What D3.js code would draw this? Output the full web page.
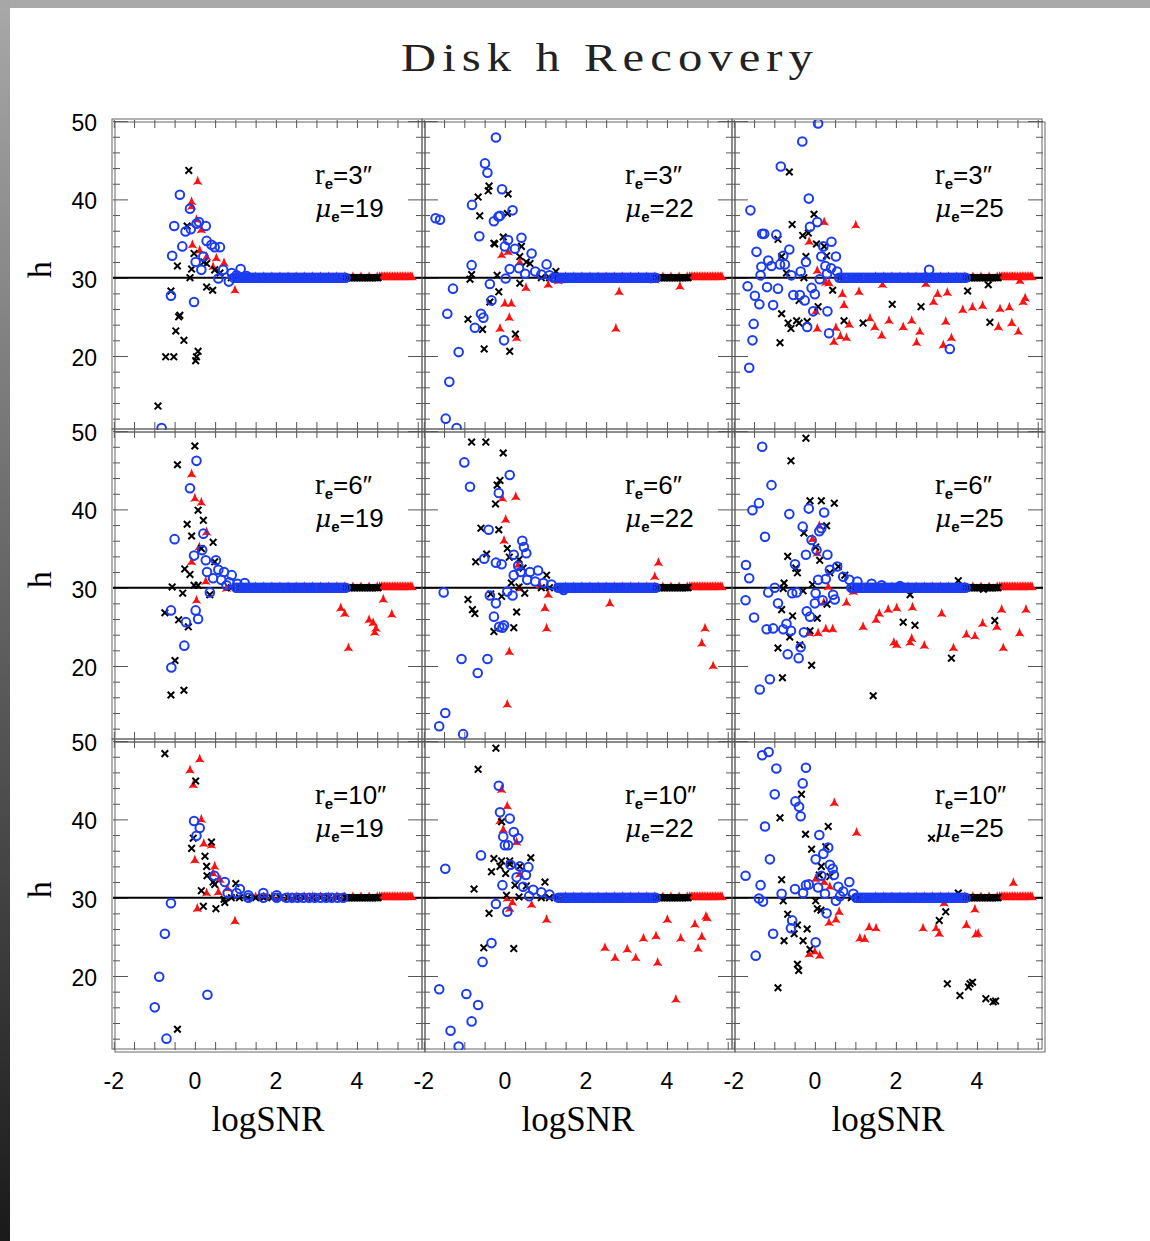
<!DOCTYPE html>
<html><head><meta charset="utf-8">
<script src="https://cdn.jsdelivr.net/npm/d3@7"></script>
<style>html,body{margin:0;padding:0;background:#fff;}svg{display:block;}</style>
</head><body>
<script>
// ---------- DATA ----------
const title = "Disk h Recovery";
const xLabel = "logSNR";
const yLabel = "h";
const xTickLabels = [-2, 0, 2, 4];
const yTickLabels = [20, 30, 40, 50];
const rowRe = ["3", "6", "10"];
const colMu = ["19", "22", "25"];
const trueH = 30;

// shared converged band (h = 30) x positions
const bandBlueX = [0.60,0.66,0.72,0.78,0.84,0.90,0.96,1.02,1.08,1.14,1.20,1.26,1.32,1.38,1.44,1.50,1.56,1.62,1.68,1.74,1.80,1.86,1.92,1.98,2.04,2.10,2.16,2.22,2.28,2.34,2.40,2.46,2.52,2.58,2.64,2.70,2.76,2.82,2.88,2.94,3.00,3.06,3.12,3.18,3.24,3.30,3.36,3.42,3.48,3.54,3.60,3.66,3.72];
const bandBlueSparseX = [1.32,1.69,2.02,2.26,2.40,2.54,2.68,2.82,2.96,3.10,3.24,3.38,3.52,3.66];
const bandBlackX = [0.9,1.1,1.3,1.5,1.7,1.9,2.1,2.3,2.5,2.7,2.9,3.1,3.3,3.5,3.72,3.76,3.80,3.84,3.88,3.92,3.96,4.00,4.04,4.08,4.12,4.16,4.20,4.24,4.28,4.32,4.36,4.40,4.44,4.48,4.52];
const bandRedX = [1.5,1.7,1.9,2.1,2.3,2.5,2.7,2.9,3.1,3.3,3.5,3.7,3.9,4.1,4.3,4.5,4.56,4.60,4.64,4.68,4.72,4.76,4.80,4.84,4.88,4.92,4.96,5.00,5.04,5.08,5.12,5.16,5.20,5.24,5.28,5.32,5.36];
const bandStart = [0.95, 1.2, 0.6, 1.0, 1.3, 0.9, null, 1.3, 1.0];

// ---- panel re=3, mu=19
const r3m19Cross = [[-0.15,43.7],[-0.19,36.6],[-0.02,33.1],[-0.43,31.5],[-0.08,31.1],[-0.12,30.0],[0.29,28.8],[0.44,28.4],[-0.59,28.3],[-0.37,25.2],[-0.40,25.0],[-0.47,23.2],[-0.27,22.0],[-0.72,19.9],[-0.52,19.9],[0.08,20.6],[0.04,19.9],[0.02,19.4],[-0.91,13.6],[0.22,32.0],[0.29,31.8],[0.49,31.0],[0.62,30.6]];
const r3m19Tri = [[0.07,42.3],[-0.08,39.7],[-0.08,39.1],[0.04,37.4],[0.16,36.1],[-0.06,34.2],[0.12,33.5],[0.29,32.7],[0.53,32.5],[0.72,31.9],[0.99,28.4],[0.45,31.4]];
const r3m19Circ = [[-0.37,40.6],[-0.51,36.6],[-0.12,38.8],[-0.23,35.9],[-0.10,36.2],[0.04,36.9],[0.10,37.1],[0.27,36.6],[-0.31,34.0],[-0.56,32.8],[0.29,34.7],[0.41,34.2],[0.49,33.9],[0.62,33.9],[0.02,32.0],[0.21,32.7],[0.16,31.0],[0.58,29.9],[0.84,29.5],[1.13,31.1],[-0.59,27.7],[-0.02,26.9],[-0.82,10.8],[0.70,31.0],[0.91,30.6],[1.03,30.3],[1.28,30.2]];

// ---- panel re=3, mu=22
const r3m22Cross = [[-0.39,41.7],[-0.41,41.1],[-0.66,40.3],[0.08,40.7],[-0.62,37.9],[0.06,38.2],[-0.04,35.2],[-0.27,34.4],[-0.25,34.3],[0.41,34.0],[0.37,32.7],[0.53,32.0],[-0.82,30.4],[-0.86,29.8],[-0.19,30.3],[0.37,29.3],[-0.15,28.2],[-0.37,26.9],[-0.91,24.7],[-0.55,23.4],[0.26,22.8],[-0.51,20.9],[0.12,20.6],[1.26,30.8],[0.62,31.8]];
const r3m22Tri = [[-0.08,32.9],[0.08,33.3],[0.52,28.7],[1.07,29.1],[1.32,29.6],[0.00,26.7],[0.16,26.7],[0.11,24.9],[-0.12,23.5],[0.29,22.3],[2.82,28.2],[2.74,23.5],[3.70,29.7],[4.32,28.9],[0.37,32.0]];
const r3m22Circ = [[-0.22,47.9],[-0.49,44.6],[-0.43,43.4],[-0.07,41.3],[-0.81,39.3],[0.19,38.6],[-0.12,37.9],[-0.16,37.8],[-0.27,37.2],[-1.71,37.6],[-1.60,37.4],[-0.63,35.3],[0.41,35.1],[0.00,34.0],[0.08,34.8],[0.25,33.7],[0.66,33.1],[-0.82,31.6],[0.12,31.1],[1.03,31.7],[-1.28,28.6],[-0.37,29.2],[0.02,29.9],[-1.42,25.4],[-0.59,25.4],[-0.53,24.9],[-0.33,27.1],[-0.74,23.6],[-0.02,22.0],[-1.14,20.5],[-1.37,16.7],[-1.46,12.0],[-1.19,10.8],[0.35,31.2],[0.50,30.5],[0.75,30.8],[0.90,30.4],[1.10,30.3]];

// ---- panel re=3, mu=25
const r3m25Cross = [[-0.63,43.5],[-0.56,36.8],[-0.02,38.1],[-0.30,35.4],[-0.16,35.7],[-0.91,34.9],[-0.82,32.7],[0.04,34.3],[0.23,34.0],[-0.22,32.7],[0.29,32.8],[-0.70,30.6],[-0.27,30.0],[0.44,28.4],[0.62,30.0],[-0.39,27.1],[0.08,26.3],[-0.82,25.4],[-0.66,24.2],[-0.59,23.5],[-0.45,24.5],[-0.39,24.2],[-0.19,24.4],[-0.86,21.7],[0.72,24.5],[1.19,24.2],[1.91,26.6],[2.62,26.3],[3.77,28.3],[4.28,29.1],[4.32,24.3]];
const r3m25Tri = [[0.23,37.1],[1.01,36.7],[-0.14,34.6],[0.06,30.9],[0.27,29.4],[0.35,29.3],[0.68,27.9],[1.09,28.2],[0.72,26.5],[1.67,29.1],[2.74,29.2],[3.03,27.9],[3.27,28.1],[2.93,26.9],[0.02,25.7],[0.06,23.5],[0.52,23.6],[0.85,24.0],[0.63,22.5],[0.47,21.8],[0.78,22.3],[1.36,24.8],[1.48,23.7],[1.83,24.5],[1.65,22.6],[2.18,23.7],[2.39,24.5],[2.59,23.1],[2.51,21.7],[3.23,24.4],[3.37,22.3],[3.17,21.4],[3.65,25.9],[3.89,26.2],[4.14,26.4],[4.57,26.0],[4.80,26.2],[4.53,23.7],[4.86,24.2],[5.02,23.1],[5.14,26.9],[5.19,27.4],[5.06,29.6]];
const r3m25Circ = [[0.08,49.7],[-0.31,47.4],[-0.84,44.2],[-0.15,40.1],[-1.59,38.6],[-0.12,36.5],[0.06,37.1],[-1.30,35.6],[-1.25,35.6],[-0.95,35.5],[-1.44,33.3],[-0.63,33.6],[0.41,34.6],[-0.78,32.8],[-1.15,32.2],[-1.32,31.4],[-1.07,31.5],[-0.86,31.7],[-0.74,31.7],[-1.34,30.3],[-0.58,30.3],[-0.35,30.8],[-0.22,32.0],[0.21,34.0],[0.16,32.7],[0.52,32.7],[0.26,31.5],[0.12,29.8],[-1.66,28.9],[-1.18,28.8],[-0.91,28.6],[-1.48,27.7],[-1.37,26.6],[-1.03,26.5],[-0.53,27.8],[-0.37,27.8],[-0.25,27.1],[-0.08,28.7],[0.00,27.9],[-0.04,25.7],[0.31,25.7],[-1.51,24.1],[-0.19,23.7],[0.35,22.9],[-1.54,22.0],[-1.62,18.5],[3.33,20.9],[2.82,31.0],[0.40,31.2],[0.55,30.8],[0.30,30.5]];

// ---- panel re=6, mu=19
const r6m19Cross = [[0.00,48.1],[-0.43,45.7],[0.08,39.9],[0.21,38.6],[-0.19,38.1],[-0.08,36.6],[0.45,35.8],[0.16,35.0],[-0.25,32.4],[-0.12,31.7],[-0.56,30.1],[-0.30,29.3],[-0.02,30.3],[0.08,30.3],[0.49,33.3],[-0.74,26.8],[-0.40,25.9],[-0.16,25.0],[-0.49,20.7],[-0.59,16.3],[-0.27,16.9],[0.37,29.1],[1.15,29.9]];
const r6m19Tri = [[-0.08,44.5],[0.00,41.4],[0.16,40.9],[0.29,37.1],[0.11,35.2],[-0.08,33.3],[0.27,30.8],[0.04,28.4],[0.78,29.9],[3.60,27.4],[3.70,26.7],[3.79,22.3],[4.30,25.9],[4.40,25.5],[4.47,24.8],[4.44,24.3],[4.65,28.5],[4.86,26.6]];
const r6m19Circ = [[0.04,46.2],[-0.12,42.7],[-0.50,36.2],[0.21,36.9],[0.18,34.8],[-0.02,34.1],[0.27,33.5],[0.52,33.5],[0.30,32.0],[0.58,32.3],[0.72,32.0],[0.91,31.6],[0.37,29.4],[0.78,30.3],[-0.59,27.1],[0.02,27.1],[0.08,26.0],[-0.22,25.6],[-0.26,22.6],[-0.58,19.8],[1.23,30.6],[0.45,31.2],[0.65,31.0],[0.85,30.7],[1.05,30.5]];

// ---- panel re=6, mu=22
const r6m22Cross = [[-0.82,48.6],[-0.47,48.6],[-0.04,47.2],[-0.12,43.7],[-0.19,43.1],[-0.23,40.7],[-0.59,37.6],[-0.15,37.4],[0.06,35.0],[0.11,33.9],[-0.45,34.3],[-0.72,33.3],[0.35,33.6],[0.45,32.5],[1.03,31.6],[0.16,30.6],[0.35,30.1],[-0.35,29.2],[0.49,29.3],[-0.08,28.9],[-0.91,28.5],[-0.80,27.2],[-0.74,26.7],[0.29,26.9],[0.22,24.9],[-0.27,24.4]];
const r6m22Tri = [[-0.06,41.4],[0.27,41.6],[0.02,38.7],[-0.02,36.0],[0.33,32.9],[0.37,29.9],[1.07,29.1],[0.99,27.4],[1.03,24.8],[0.11,21.8],[0.06,15.1],[2.59,28.0],[3.79,33.2],[3.70,31.4],[4.94,24.8],[4.86,22.9],[5.14,20.0],[0.86,30.3]];
const r6m22Circ = [[-1.00,46.0],[0.12,44.4],[-0.86,42.9],[-0.15,42.1],[-0.40,37.4],[0.43,36.0],[0.47,35.2],[0.53,34.4],[0.22,34.2],[-0.51,33.7],[-0.22,33.2],[-0.08,33.0],[0.33,32.8],[0.39,32.0],[0.62,32.0],[0.82,32.2],[0.22,31.6],[-1.51,29.4],[-0.37,29.0],[0.06,29.5],[0.19,29.0],[-0.22,28.0],[-0.27,26.3],[-0.14,25.0],[-0.02,25.2],[-0.06,24.9],[-1.07,20.9],[-0.43,20.9],[-0.67,19.1],[-1.47,14.0],[-1.62,12.3],[-1.03,11.3],[0.55,31.0],[0.75,30.8],[0.95,30.6],[1.15,30.4],[1.45,29.7]];

// ---- panel re=6, mu=25
const r6m25Cross = [[-0.22,49.1],[-0.59,46.2],[-0.12,41.1],[0.16,41.1],[0.48,40.8],[0.29,37.9],[-0.27,37.0],[0.02,35.2],[-0.67,34.0],[0.12,33.5],[-0.47,32.5],[-0.43,31.9],[0.37,31.9],[0.58,32.7],[0.74,31.6],[-0.76,30.6],[-0.78,29.9],[-0.06,30.4],[-0.29,29.6],[0.30,27.9],[-0.82,27.2],[-0.55,26.4],[0.06,26.1],[-0.12,24.5],[-0.62,23.7],[-0.37,22.7],[-0.91,22.3],[-0.08,20.1],[-0.80,18.5],[1.44,16.2],[2.35,29.1],[2.18,25.6],[2.47,25.2],[3.54,30.9],[3.37,21.0],[4.16,29.8],[4.44,25.8]];
const r6m25Tri = [[0.11,37.9],[-0.06,36.2],[0.06,34.4],[0.22,28.1],[0.33,30.1],[0.78,28.1],[0.95,29.5],[-0.14,24.2],[0.08,24.2],[0.27,24.7],[0.44,24.7],[1.19,25.0],[1.51,25.9],[1.59,26.7],[1.81,27.2],[2.02,27.4],[2.41,27.5],[3.13,26.7],[1.95,23.0],[2.02,22.7],[2.35,23.0],[2.39,23.5],[2.70,22.6],[3.42,22.3],[3.74,24.0],[3.95,23.8],[4.14,25.4],[4.49,25.0],[4.61,27.2],[4.65,22.3],[5.05,24.2],[5.21,27.2]];
const r6m25Circ = [[-1.30,48.0],[-1.07,43.1],[-1.38,40.8],[-1.54,39.9],[-0.63,39.4],[-0.15,40.1],[0.23,39.6],[0.16,37.6],[0.11,37.2],[-0.30,37.8],[-1.23,36.5],[-0.08,36.1],[0.04,34.8],[-0.22,34.2],[0.31,34.2],[-1.70,32.9],[-1.62,31.2],[-0.49,33.0],[0.37,32.3],[0.55,32.7],[0.08,31.0],[0.27,31.1],[-0.99,30.0],[-1.15,29.4],[-0.56,29.3],[-0.45,29.4],[0.02,29.3],[0.45,29.1],[0.49,28.5],[-1.71,28.4],[-0.91,28.0],[0.19,28.4],[0.00,28.0],[-0.20,27.0],[-0.12,26.3],[-1.50,26.2],[-0.70,25.4],[-1.03,24.8],[-1.19,24.7],[-0.78,24.7],[-0.59,24.5],[-0.27,24.3],[-0.35,22.4],[-0.67,21.5],[-0.40,21.0],[-1.11,18.3],[-1.36,17.0],[0.70,31.4],[0.85,31.0],[1.05,30.8],[1.40,30.5],[1.65,30.3],[2.10,30.2]];

// ---- panel re=10, mu=19
const r10m19Cross = [[-0.74,48.4],[0.02,44.9],[-0.04,37.6],[-0.08,36.3],[0.41,37.1],[0.25,35.3],[0.29,34.0],[0.30,32.8],[0.45,32.0],[0.49,31.7],[1.01,31.8],[0.16,30.9],[0.21,28.9],[0.52,28.6],[0.72,29.8],[0.74,29.4],[-0.43,13.2]];
const r10m19Tri = [[0.12,47.7],[-0.12,46.3],[-0.04,44.4],[0.16,40.0],[0.22,36.9],[0.41,36.7],[0.00,34.8],[0.49,34.0],[0.45,33.1],[0.29,30.6],[0.06,28.6],[0.58,30.7],[0.99,27.0],[0.62,32.3],[0.80,31.2]];
const r10m19Circ = [[-0.02,39.8],[0.12,38.9],[0.04,37.9],[0.48,32.8],[0.74,32.0],[0.81,30.6],[1.11,31.1],[1.03,30.6],[1.32,30.3],[1.69,30.6],[2.02,30.3],[-0.59,29.3],[-0.74,25.4],[-0.88,19.9],[0.31,17.6],[-0.99,16.0],[-0.70,12.0]];

// ---- panel re=10, mu=22
const r10m22Cross = [[-0.22,49.1],[-0.66,46.4],[-0.08,39.7],[-0.27,35.0],[-0.08,34.7],[0.12,34.7],[0.64,35.1],[-0.33,33.3],[-0.12,34.0],[0.02,33.1],[0.12,34.3],[0.37,34.0],[-0.76,31.1],[0.25,31.6],[0.53,31.5],[0.99,32.0],[0.04,30.3],[0.35,30.1],[-0.39,28.0],[-0.52,23.6],[0.22,23.5]];
const r10m22Tri = [[-0.08,43.8],[0.06,41.7],[-0.12,39.8],[-0.04,38.7],[0.29,37.1],[0.37,33.0],[0.06,29.9],[0.19,29.4],[0.66,29.1],[0.12,28.6],[1.03,27.2],[2.47,23.6],[2.72,22.3],[3.02,23.4],[3.23,22.3],[3.42,24.8],[3.73,25.1],[4.01,27.2],[3.77,21.7],[4.34,24.8],[4.69,26.6],[4.86,25.0],[4.77,23.5],[4.96,27.6],[4.99,27.4],[4.22,17.0]];
const r10m22Circ = [[-0.15,44.3],[-0.12,40.9],[0.12,40.1],[0.22,38.4],[-0.04,37.8],[0.33,37.6],[0.00,36.7],[0.08,36.7],[-0.59,35.4],[-1.47,33.7],[0.14,34.2],[0.37,34.0],[0.58,33.9],[0.52,32.9],[0.29,32.6],[-0.06,31.6],[-0.22,29.2],[0.06,28.2],[-0.33,24.2],[-0.55,21.8],[-1.62,18.3],[-0.95,17.7],[-0.66,16.3],[-0.82,14.2],[-1.34,13.0],[-1.14,11.0],[0.45,31.4],[0.70,31.0],[0.90,30.7],[1.10,30.4],[0.60,30.2]];

// ---- panel re=10, mu=25
const r10m25Cross = [[-0.33,43.2],[-0.86,40.2],[0.33,39.1],[-0.23,38.1],[0.27,36.5],[-0.08,36.2],[0.16,34.0],[0.11,32.9],[0.37,32.7],[-0.82,32.3],[-0.78,29.6],[0.02,29.6],[0.06,28.6],[0.15,28.4],[-0.67,27.9],[-0.43,26.5],[-0.19,26.0],[-0.51,25.4],[-0.76,24.5],[-0.29,24.5],[-0.12,23.4],[-0.43,21.5],[-0.40,20.7],[-0.91,18.5],[2.88,37.6],[3.54,30.6],[3.23,28.2],[3.07,27.1],[3.27,19.0],[3.58,17.5],[3.79,18.6],[3.83,19.0],[3.89,19.2],[4.22,17.1],[4.40,16.7],[4.46,16.8]];
const r10m25Tri = [[0.48,42.1],[1.03,38.3],[0.02,32.4],[0.23,32.0],[0.37,31.4],[0.60,28.2],[0.52,27.2],[0.35,26.8],[1.34,26.2],[1.51,26.1],[1.11,24.8],[1.23,24.7],[-0.14,22.8],[0.00,23.1],[0.12,22.6],[2.67,26.1],[2.99,26.1],[3.07,25.4],[3.19,29.3],[3.74,26.5],[3.95,28.5],[3.97,25.3],[4.03,25.4],[4.90,31.9]];
const r10m25Circ = [[-1.30,48.2],[-1.14,48.6],[-0.95,46.5],[-0.22,46.6],[-0.30,44.6],[-0.99,43.2],[-0.48,42.3],[-0.39,41.6],[-0.35,40.4],[-1.23,39.1],[0.11,38.0],[0.33,36.4],[0.21,35.6],[-1.11,34.9],[0.02,34.9],[0.37,34.2],[0.44,33.7],[0.47,32.9],[0.16,32.8],[-1.71,32.8],[-1.34,31.6],[-0.15,31.7],[-0.22,31.6],[0.08,31.3],[-0.49,31.1],[-0.29,30.6],[-0.82,30.5],[0.25,30.5],[0.58,31.4],[0.85,32.0],[-1.38,29.9],[-1.28,29.5],[0.52,29.6],[-0.56,27.1],[-0.59,26.1],[-1.03,25.4],[0.29,28.0],[0.02,24.3],[-1.46,22.6],[0.70,30.8],[0.95,30.5],[0.62,30.2]];

const crossSets = [r3m19Cross, r3m22Cross, r3m25Cross, r6m19Cross, r6m22Cross, r6m25Cross, r10m19Cross, r10m22Cross, r10m25Cross];
const triSets = [r3m19Tri, r3m22Tri, r3m25Tri, r6m19Tri, r6m22Tri, r6m25Tri, r10m19Tri, r10m22Tri, r10m25Tri];
const circSets = [r3m19Circ, r3m22Circ, r3m25Circ, r6m19Circ, r6m22Circ, r6m25Circ, r10m19Circ, r10m22Circ, r10m25Circ];

// ---------- LAYOUT ----------
const W = 1150, H = 1241;
const panelW = 310, panelH = 310, left0 = 113, top0 = 120;
const xDomain = [-2.02, 5.63], yDomain = [10.55, 50.14];
const RED = "#ff1010", BLUE = "#1b3cf2", BLACK = "#000";

const svg = d3.select("body").append("svg").attr("width", W).attr("height", H);
const defs = svg.append("defs");
const grad = defs.append("linearGradient").attr("id","lg").attr("x1",0).attr("y1",0).attr("x2",0).attr("y2",1);
grad.append("stop").attr("offset","0%").attr("stop-color","#a8a8a8");
grad.append("stop").attr("offset","100%").attr("stop-color","#1a1a1a");
svg.append("rect").attr("x",0).attr("y",0).attr("width",W).attr("height",H).attr("fill","#fff");
svg.append("rect").attr("x",0).attr("y",0).attr("width",W).attr("height",8).attr("fill","#a9a9a9");
svg.append("rect").attr("x",0).attr("y",0).attr("width",10).attr("height",H).attr("fill","url(#lg)");

// title (wide glyphs, moderate spacing)
svg.append("text").attr("x",610).attr("y",71).attr("text-anchor","middle")
  .attr("font-family","'Liberation Serif','DejaVu Serif',serif").attr("font-size",40)
  .attr("letter-spacing",5)
  .attr("textLength",418).attr("lengthAdjust","spacingAndGlyphs").attr("fill","#222")
  .text(title);

const triPath = "M0,-5.6 Q1.2,-0.5 4.9,3.6 Q0,1.6 -4.9,3.6 Q-1.2,-0.5 0,-5.6 Z";

for (let r = 0; r < 3; r++) {
  for (let c = 0; c < 3; c++) {
    const idx = r*3 + c;
    const L = left0 + c*panelW, T = top0 + r*panelH;
    const x = d3.scaleLinear().domain(xDomain).range([0, panelW]);
    const y = d3.scaleLinear().domain(yDomain).range([panelH, 0]);
    const g = svg.append("g").attr("transform", `translate(${L},${T})`);
    const cid = "clip" + idx;
    defs.append("clipPath").attr("id", cid).append("rect").attr("x",0).attr("y",0).attr("width",panelW).attr("height",panelH);

    // frames (doubled)
    g.append("rect").attr("x",-1).attr("y",-1).attr("width",panelW).attr("height",panelH)
      .attr("fill","none").attr("stroke","#666").attr("stroke-width",1);
    g.append("rect").attr("x",2).attr("y",2).attr("width",panelW).attr("height",panelH)
      .attr("fill","none").attr("stroke","#666").attr("stroke-width",1);

    // ticks via d3 axes, drawn inward on all four sides
    const xt = d3.range(-2, 5.51, 0.5);
    const yt = d3.range(12, 50.1, 2);
    const styleAxis = sel => { sel.select(".domain").remove(); sel.selectAll("text").remove(); sel.selectAll("line").attr("stroke","#555").attr("stroke-width",1); };
    g.append("g").attr("transform",`translate(0,${panelH})`).call(d3.axisTop(x).tickValues(xt).tickSize(8)).call(styleAxis);
    g.append("g").call(d3.axisBottom(x).tickValues(xt).tickSize(8)).call(styleAxis);
    g.append("g").call(d3.axisRight(y).tickValues(yt).tickSize(7)).call(styleAxis)
      .selectAll(".tick line").attr("x2", d => d % 10 === 0 ? 15 : 7);
    g.append("g").attr("transform",`translate(${panelW},0)`).call(d3.axisLeft(y).tickValues(yt).tickSize(7)).call(styleAxis)
      .selectAll(".tick line").attr("x2", d => d % 10 === 0 ? -15 : -7);

    // true value line
    g.append("line").attr("x1",0).attr("x2",panelW).attr("y1",y(trueH)).attr("y2",y(trueH))
      .attr("stroke","#000").attr("stroke-width",2);

    const pg = g.append("g").attr("clip-path", `url(#${cid})`);

    // bands
    const bs = bandStart[idx];
    const blueBand = bs === null ? bandBlueSparseX : bandBlueX.filter(v => v >= bs);
    const redPts = bandRedX.map(v => [v, 30.1]).concat(triSets[idx]);
    const blackPts = bandBlackX.map(v => [v, 30.0]).concat(crossSets[idx]);
    const bluePts = blueBand.map(v => [v, 30.0]).concat(circSets[idx]);

    pg.selectAll("path.tri").data(redPts).join("path").attr("class","tri")
      .attr("d", triPath).attr("fill", RED)
      .attr("transform", d => `translate(${x(d[0])},${y(d[1])})`);
    const cr = pg.selectAll("g.cross").data(blackPts).join("g").attr("class","cross")
      .attr("transform", d => `translate(${x(d[0])},${y(d[1])})`);
    cr.append("path").attr("d","M-3.3,-3.3L3.3,3.3M-3.3,3.3L3.3,-3.3")
      .attr("stroke", BLACK).attr("stroke-width", 2).attr("fill","none");
    pg.selectAll("circle.c").data(bluePts).join("circle").attr("class","c")
      .attr("cx", d => x(d[0])).attr("cy", d => y(d[1])).attr("r", 4.3)
      .attr("fill","none").attr("stroke", BLUE).attr("stroke-width", 2);

    // annotation
    const ann = g.append("g").attr("transform", `translate(202,0)`);
    const t1 = ann.append("text").attr("x",0).attr("y",64).attr("fill","#000");
    t1.append("tspan").attr("font-family","'Liberation Serif','DejaVu Serif',serif").attr("font-size",29).text("r");
    t1.append("tspan").attr("font-family","'Liberation Sans',Arial,sans-serif").attr("font-weight","bold").attr("font-size",15).attr("dy",5).text("e");
    t1.append("tspan").attr("font-family","'Liberation Sans',Arial,sans-serif").attr("font-size",26).attr("dy",-5).text("=" + rowRe[r] + "\u2033");
    const t2 = ann.append("text").attr("x",0).attr("y",97).attr("fill","#000");
    t2.append("tspan").attr("font-family","'DejaVu Serif',serif").attr("font-style","italic").attr("font-size",25).text("\u03bc");
    t2.append("tspan").attr("font-family","'Liberation Sans',Arial,sans-serif").attr("font-weight","bold").attr("font-size",15).attr("dy",5).text("e");
    t2.append("tspan").attr("font-family","'Liberation Sans',Arial,sans-serif").attr("font-size",26).attr("dy",-5).text("=" + colMu[c]);

    // y tick labels and y label on left column
    if (c === 0) {
      svg.selectAll(null).data(yTickLabels).join("text")
        .attr("x", 97).attr("y", d => T + y(d) + 4)
        .attr("text-anchor","end").attr("dominant-baseline","middle")
        .attr("font-family","'Liberation Sans',Arial,sans-serif").attr("font-size",23)
        .text(d => d);
      svg.append("text").attr("transform", `translate(51,${T + y(30) - 8}) rotate(-90)`)
        .attr("text-anchor","middle")
        .attr("font-family","'Liberation Serif','DejaVu Serif',serif").attr("font-size",34)
        .text(yLabel);
    }
    // x tick labels and x label on bottom row
    if (r === 2) {
      svg.selectAll(null).data(xTickLabels).join("text")
        .attr("x", d => L + x(d)).attr("y", T + panelH + 33)
        .attr("text-anchor","middle").attr("dominant-baseline","middle")
        .attr("font-family","'Liberation Sans',Arial,sans-serif").attr("font-size",23)
        .text(d => d);
      svg.append("text").attr("x", L + 155).attr("y", T + panelH + 81)
        .attr("text-anchor","middle")
        .attr("font-family","'Liberation Serif','DejaVu Serif',serif").attr("font-size",35)
        .text(xLabel);
    }
  }
}
</script>
</body></html>
